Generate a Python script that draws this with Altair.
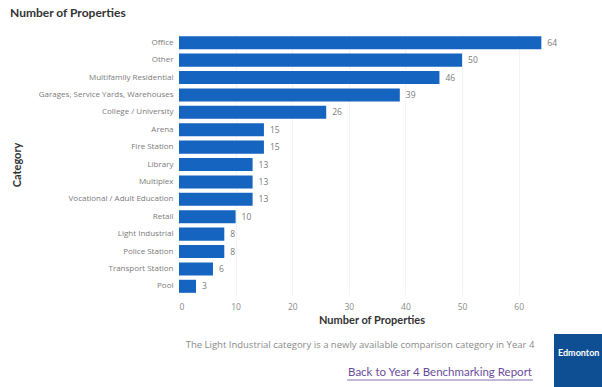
import altair as alt
import pandas as pd

categories = ["Office", "Other", "Multifamily Residential", "Garages, Service Yards, Warehouses",
              "College / University", "Arena", "Fire Station", "Library", "Multiplex",
              "Vocational / Adult Education", "Retail", "Light Industrial", "Police Station",
              "Transport Station", "Pool"]
counts = [64, 50, 46, 39, 26, 15, 15, 13, 13, 13, 10, 8, 8, 6, 3]
x_ticks = [0, 10, 20, 30, 40, 50, 60]

df = pd.DataFrame({"Category": categories, "Count": counts})

FONT = "Open Sans"
TITLE_FONT = "Lato"
W, H = 385, 261

base = alt.Chart(df)
y_enc = alt.Y("Category:N", sort=categories,
              scale=alt.Scale(paddingInner=0.25, paddingOuter=0.125),
              axis=alt.Axis(title="Category", labelFont=FONT, labelFontSize=8,
                            labelColor="#7a7a7a", ticks=False, domain=False,
                            labelPadding=6, titleFont=TITLE_FONT, titleFontSize=11,
                            titleFontWeight="bold", titleColor="#333333",
                            titleX=-162, titleY=H / 2, titleAngle=270,
                            titleAlign="center", titleBaseline="middle"))
x_enc = alt.X("Count:Q", scale=alt.Scale(domain=[0, 68], nice=False),
              axis=alt.Axis(title="Number of Properties", values=x_ticks,
                            labelFont=FONT, labelFontSize=8.5, labelColor="#8a8a8a",
                            ticks=False, domain=False, labelPadding=7,
                            gridColor="#f0f0f0", gridWidth=0.8,
                            titleFont=TITLE_FONT, titleFontSize=11,
                            titleFontWeight="bold", titleColor="#333333",
                            titlePadding=4))

bars = base.mark_bar(color="#1565C0").encode(x=x_enc, y=y_enc)
labels = base.mark_text(align="left", baseline="middle", dx=6, font=FONT,
                        fontSize=8.5, color="#7a7a7a").encode(
    x="Count:Q", y=alt.Y("Category:N", sort=categories), text="Count:Q")

title = alt.Chart(pd.DataFrame({"t": ["Number of Properties"]})).mark_text(
    align="left", baseline="middle", font=TITLE_FONT, fontSize=12,
    fontWeight="bold", color="#333333").encode(
    x=alt.value(-169), y=alt.value(-21), text="t:N")

foot = alt.Chart(pd.DataFrame({"t": ["The Light Industrial category is a newly available comparison category in Year 4"]})).mark_text(
    align="center", baseline="middle", font=FONT, fontSize=9.5,
    color="#8a8a8a").encode(x=alt.value(181), y=alt.value(311), text="t:N")

link = alt.Chart(pd.DataFrame({"t": ["Back to Year 4 Benchmarking Report"]})).mark_text(
    align="center", baseline="middle", font=TITLE_FONT, fontSize=11.5,
    color="#6a4c9c").encode(x=alt.value(261), y=alt.value(339), text="t:N")

underline = alt.Chart(pd.DataFrame({"t": [1]})).mark_rule(
    color="#6a4c9c", strokeWidth=0.8).encode(
    x=alt.value(168), x2=alt.value(354), y=alt.value(346))

logo = alt.Chart(pd.DataFrame({"t": [1]})).mark_rect(color="#0E4F93").encode(
    x=alt.value(375), x2=alt.value(430), y=alt.value(300), y2=alt.value(360))

logo_text = alt.Chart(pd.DataFrame({"t": ["Edmonton"]})).mark_text(
    align="left", baseline="middle", font=TITLE_FONT, fontSize=9,
    fontWeight="bold", color="white").encode(
    x=alt.value(379), y=alt.value(319), text="t:N")

chart = alt.layer(bars, labels, title, foot, link, underline, logo, logo_text).properties(
    width=W, height=H,
    background="white",
    autosize=alt.AutoSizeParams(type="none"),
    padding={"left": 179, "top": 34, "right": 38, "bottom": 92},
).configure_view(strokeWidth=0, stroke="transparent")

chart.save("out.html", embed_options={"renderer": "svg", "actions": False})
